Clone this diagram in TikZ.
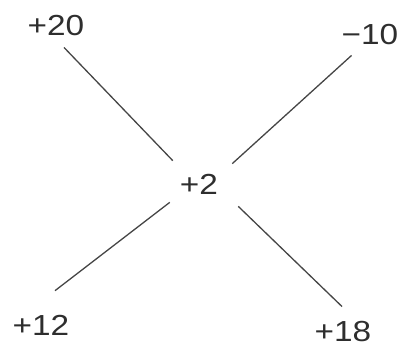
\documentclass[tikz,border=0pt]{standalone}
\usepackage{fontspec}
\newfontfamily\numfont{Liberation Sans}[FakeStretch=1.15]
\usetikzlibrary{positioning}
\definecolor{inkgray}{HTML}{2E2E2E}
\definecolor{linegray}{HTML}{454545}

\begin{document}
\begin{tikzpicture}[x=1pt, y=-1pt,
  val/.style={font=\numfont\fontsize{29}{29}\selectfont, text=inkgray, inner sep=3pt},
  link/.style={draw=linegray, line width=1.3pt}]
\useasboundingbox (0,0) rectangle (403,350);

% the centre value and the four around it
\node[val] (mid) at (199,184) {+2};
\node[val] (topleft) at (56,26) {+20};
\node[val] (topright) at (370,35) {−10};
\node[val] (botleft) at (41,325) {+12};
\node[val] (botright) at (343,332) {+18};

% the cross
\draw[link] ([xshift=8pt, yshift=-8pt]topleft.south) -- ([xshift=-4pt, yshift=10pt]mid.north west);
\draw[link] ([xshift=13pt, yshift=-7pt]topright.south west) -- ([xshift=11pt, yshift=7pt]mid.north east);
\draw[link] ([xshift=-7pt, yshift=-5pt]mid.south west) -- ([xshift=14pt, yshift=21pt]botleft.north);
\draw[link] ([xshift=17pt, yshift=-9pt]mid.south east) -- ([xshift=-1pt, yshift=12pt]botright.north);
\end{tikzpicture}
\end{document}
